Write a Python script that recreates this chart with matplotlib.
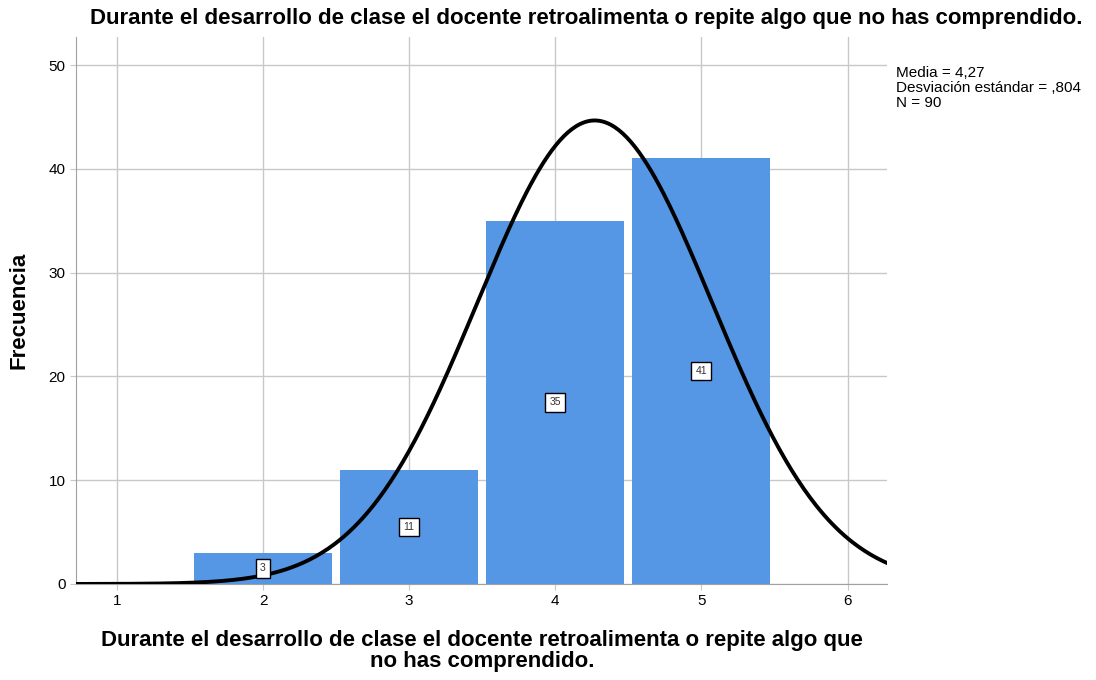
import matplotlib.pyplot as plt
import numpy as np

plt.rcParams['font.family'] = ['Liberation Sans', 'DejaVu Sans']

valores = [2, 3, 4, 5]
frecuencias = [3, 11, 35, 41]
media = 4.27
desv = 0.804
n = 90
titulo = "Durante el desarrollo de clase el docente retroalimenta o repite algo que no has comprendido."
xlab = "Durante el desarrollo de clase el docente retroalimenta o repite algo que\nno has comprendido."

fig = plt.figure(figsize=(10.96, 6.8), dpi=100)
ax = fig.add_axes([0.0693, 0.1412, 0.74, 0.8044])

ax.set_axisbelow(True)
ax.grid(True, color="#c8c8c8", linewidth=1)
ax.bar(valores, frecuencias, width=0.945, color="#5596e5", edgecolor="none")

# curva normal
xs = np.linspace(0.72, 6.27, 400)
ys = n * 1.0 / (desv * np.sqrt(2 * np.pi)) * np.exp(-0.5 * ((xs - media) / desv) ** 2)
ax.plot(xs, ys, color="black", linewidth=2.8, zorder=3)

for v, f in zip(valores, frecuencias):
    ax.text(v, f / 2, str(f), ha="center", va="center", fontsize=7.5, color="#333333", zorder=4,
            bbox=dict(boxstyle="square,pad=0.4", fc="white", ec="black", lw=1))

ax.set_xlim(0.72, 6.27)
ax.set_ylim(0, 52.7)
ax.set_xticks([1, 2, 3, 4, 5, 6])
ax.set_yticks([0, 10, 20, 30, 40, 50])
ax.tick_params(labelsize=11, length=4, color="#c8c8c8")
for s in ["top", "right"]:
    ax.spines[s].set_visible(False)
ax.spines["left"].set_color("#a0a0a0")
ax.spines["bottom"].set_color("#a0a0a0")

fig.text(0.535, 0.973, titulo, ha="center", va="center", fontsize=16, fontweight="bold")
ax.set_ylabel("Frecuencia", fontsize=16, fontweight="bold", labelpad=14)
fig.text(0.44, 0.043, xlab, ha="center", va="center", fontsize=16, fontweight="bold",
         linespacing=1.0)
fig.text(0.8175, 0.903, "Media = 4,27\nDesviación estándar = ,804\nN = 90", ha="left", va="top",
         fontsize=11, linespacing=1.1)

fig.savefig("out.png", dpi=100)
